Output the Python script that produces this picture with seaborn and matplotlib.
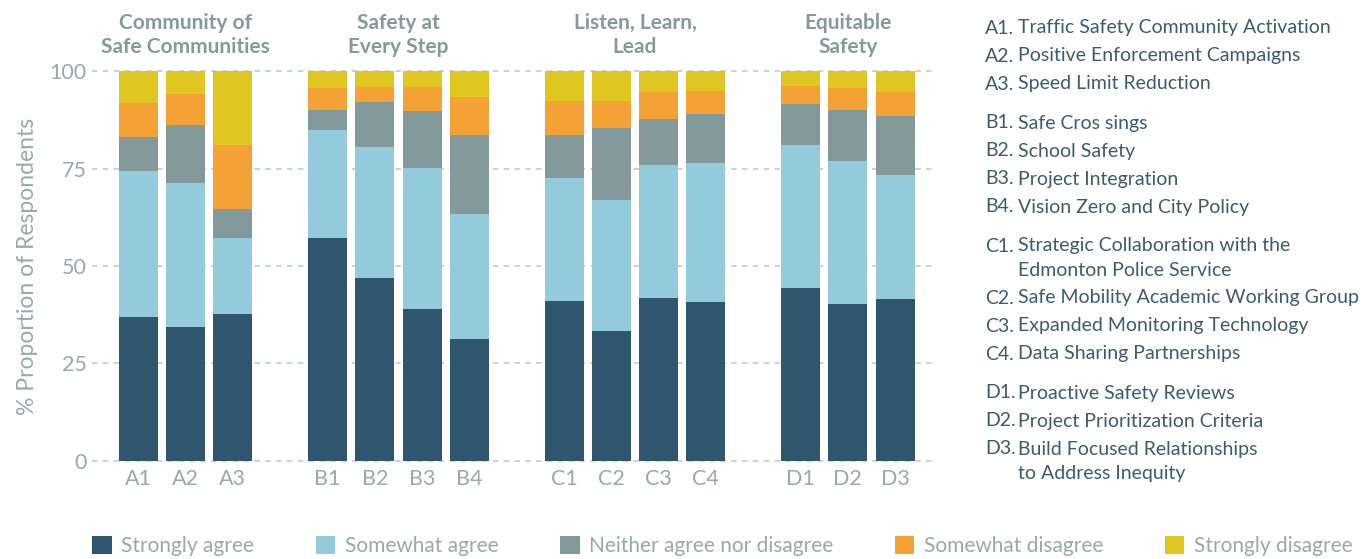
import numpy as np
import pandas as pd
import matplotlib
matplotlib.use('Agg')
import matplotlib.pyplot as plt
from matplotlib.patches import Patch
import seaborn as sns

# data (percent of respondents)
codes = ['A1', 'A2', 'A3', 'B1', 'B2', 'B3', 'B4', 'C1', 'C2', 'C3', 'C4', 'D1', 'D2', 'D3']
strongly_agree = [36.9, 34.4, 37.7, 57.2, 46.9, 39.0, 31.3, 41.0, 33.3, 41.8, 40.8, 44.4, 40.3, 41.5]
somewhat_agree = [37.5, 36.9, 19.6, 27.7, 33.6, 36.1, 32.0, 31.6, 33.6, 34.1, 35.6, 36.6, 36.6, 31.8]
neither = [8.7, 14.9, 7.3, 5.1, 11.6, 14.6, 20.3, 11.0, 18.5, 11.8, 12.6, 10.5, 13.1, 15.2]
somewhat_disagree = [8.7, 7.9, 16.4, 5.6, 3.8, 6.2, 9.7, 8.7, 6.9, 6.9, 5.9, 4.7, 5.6, 6.1]
strongly_disagree = [8.2, 5.9, 19.0, 4.4, 4.1, 4.1, 6.7, 7.7, 7.7, 5.4, 5.1, 3.8, 4.4, 5.4]

responses = ['Strongly agree', 'Somewhat agree', 'Neither agree nor disagree',
             'Somewhat disagree', 'Strongly disagree']
colors = ['#30556f', '#93cadc', '#83999a', '#f4a236', '#dfc620']

group_titles = ['Community of\nSafe Communities', 'Safety at\nEvery Step',
                'Listen, Learn,\nLead', 'Equitable\nSafety']

descriptions = [
    [('A1.', 'Traffic Safety Community Activation'),
     ('A2.', 'Positive Enforcement Campaigns'),
     ('A3.', 'Speed Limit Reduction')],
    [('B1.', 'Safe Cros sings'),
     ('B2.', 'School Safety'),
     ('B3.', 'Project Integration'),
     ('B4.', 'Vision Zero and City Policy')],
    [('C1.', 'Strategic Collaboration with the\nEdmonton Police Service'),
     ('C2.', 'Safe Mobility Academic Working Group'),
     ('C3.', 'Expanded Monitoring Technology'),
     ('C4.', 'Data Sharing Partnerships')],
    [('D1.', 'Proactive Safety Reviews'),
     ('D2.', 'Project Prioritization Criteria'),
     ('D3.', 'Build Focused Relationships\nto Address Inequity')],
]

# slot layout: one empty slot between the four groups
group_idx = ['ABCD'.index(c[0]) for c in codes]
positions = [i + gi for i, gi in enumerate(group_idx)]
group_centers = [np.mean([p for p, gi in zip(positions, group_idx) if gi == k]) for k in range(4)]

df = pd.DataFrame({'code': codes, 'pos': positions,
                   responses[0]: strongly_agree, responses[1]: somewhat_agree,
                   responses[2]: neither, responses[3]: somewhat_disagree,
                   responses[4]: strongly_disagree})
cum = df[responses].cumsum(axis=1)
for r in responses:
    df['cum_' + r] = cum[r]

sns.set_style('white')
plt.rcParams['font.family'] = ['Lato', 'DejaVu Sans']

tick_col = '#98a9a8'
text_col = '#3f5a6e'

fig = plt.figure(figsize=(13.64, 5.59), dpi=100)
ax = fig.add_axes([0.0674, 0.1712, 0.618, 0.7058])

# draw cumulative layers from the top down so each shorter bar sits on top
for r, c in reversed(list(zip(responses, colors))):
    sns.barplot(data=df, x='pos', y='cum_' + r, color=c, saturation=1,
                width=0.824, native_scale=True, errorbar=None, linewidth=0,
                ax=ax, zorder=3)

ax.set_xlim(-0.98, 16.84)
ax.set_ylim(-0.6, 100.6)
ax.set_yticks([0, 25, 50, 75, 100])
ax.set_xticks(positions)
ax.set_xticklabels(codes)
ax.tick_params(axis='both', length=0, labelsize=15.5, labelcolor=tick_col, pad=4)
ax.set_xlabel('')
ax.set_ylabel('% Proportion of Respondents', fontsize=16.5, color=tick_col, labelpad=8)
ax.yaxis.grid(True, color='#c5d0cf', linestyle=(0, (3, 3)), linewidth=1.3, zorder=0)
sns.despine(ax=ax, left=True, bottom=True)

for title, xc in zip(group_titles, group_centers):
    ax.text(xc, 109.2, title, ha='center', va='center', fontsize=15,
            fontweight='bold', color='#869a9a', linespacing=1.25, clip_on=False)

# description list on the right
y = 28
for block in descriptions:
    for code, desc in block:
        lines = desc.split('\n')
        fig.text(985 / 1364, 1 - y / 559, code, fontsize=14, color=text_col, va='center')
        for k, line in enumerate(lines):
            fig.text(1018 / 1364, 1 - (y + 24 * k) / 559, line, fontsize=14,
                     color=text_col, va='center')
        y += 28 + 24 * (len(lines) - 1)
    y += 11

handles = [Patch(facecolor=c, edgecolor='none', label=r) for r, c in zip(responses, colors)]
leg = fig.legend(handles=handles, loc='center left', bbox_to_anchor=(92 / 1364, 1 - 546 / 559),
                 ncol=5, frameon=False, fontsize=15, handlelength=0.95, handleheight=0.95,
                 handletextpad=0.45, columnspacing=2.95, borderaxespad=0, borderpad=0)
for t in leg.get_texts():
    t.set_color(tick_col)

fig.savefig('out.png', dpi=100)
